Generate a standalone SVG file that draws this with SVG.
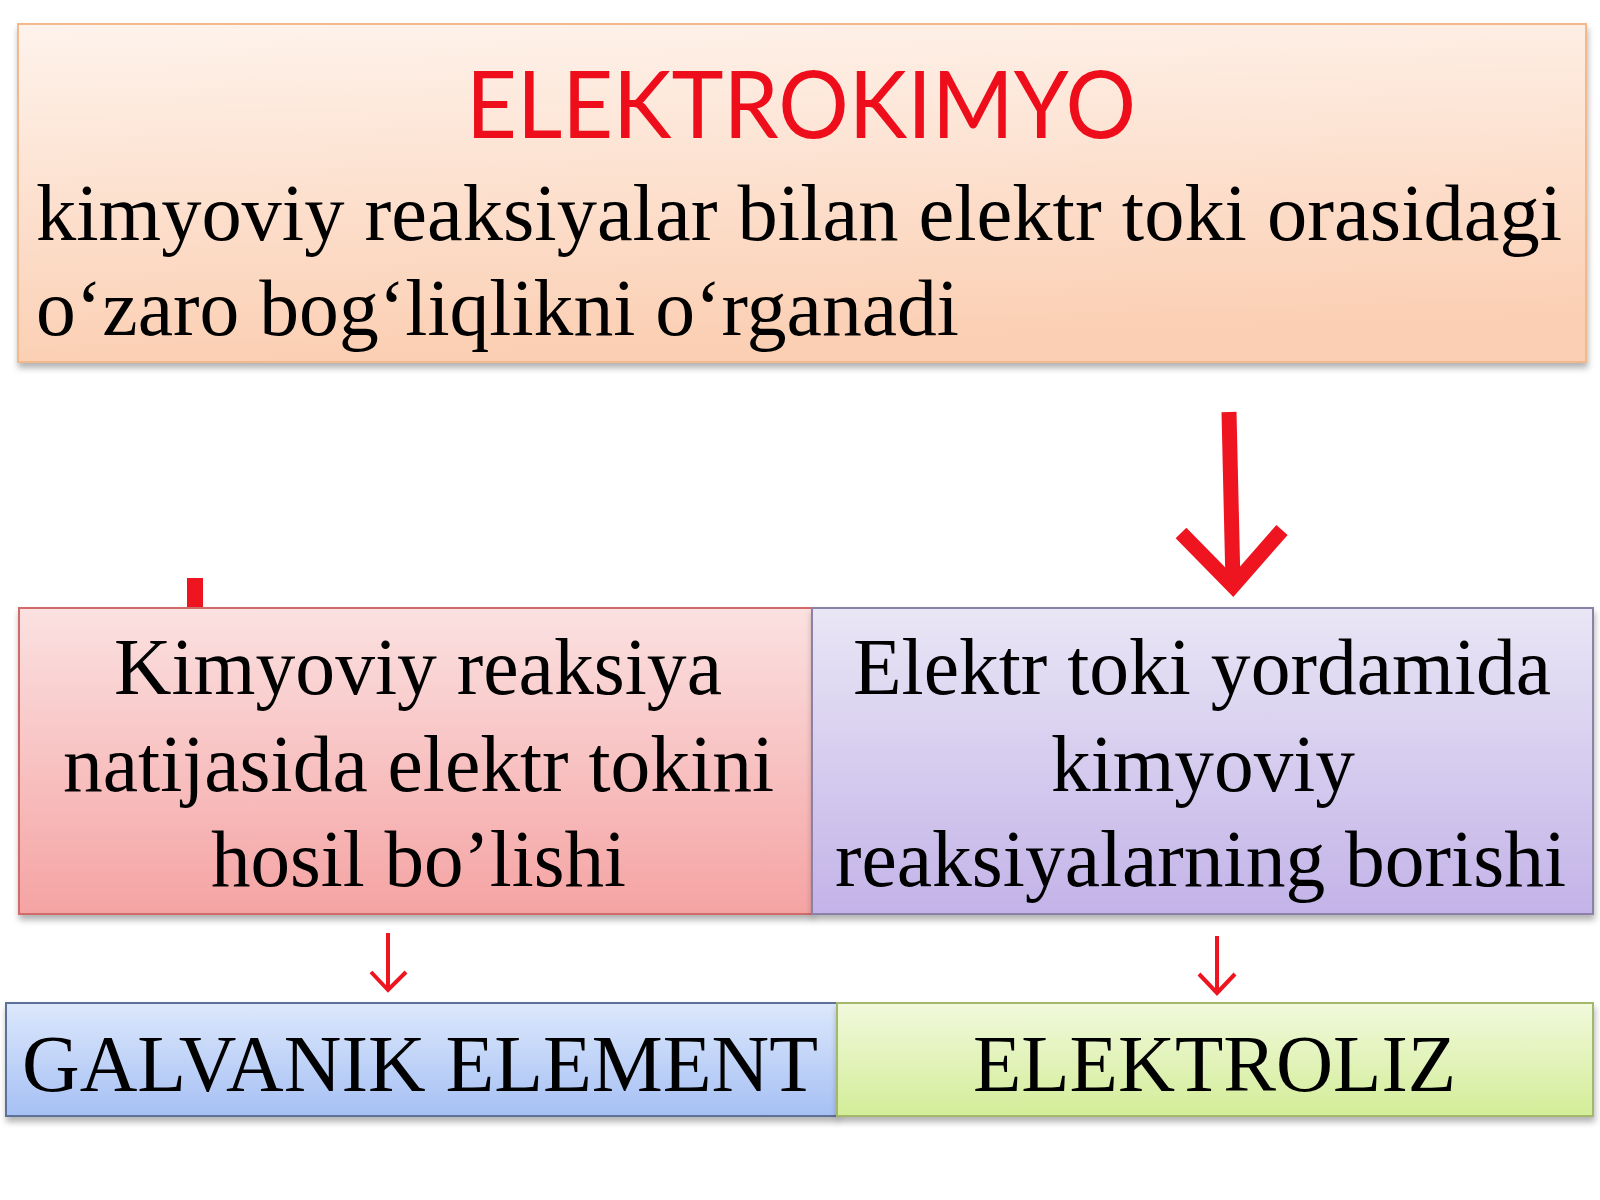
<svg xmlns="http://www.w3.org/2000/svg" width="1600" height="1200" viewBox="0 0 1600 1200">
<defs>
<linearGradient id="gTop" x1="0" y1="0" x2="0.15" y2="1">
<stop offset="0" stop-color="#fef3ec"/><stop offset="1" stop-color="#fbcfb3"/>
</linearGradient>
<linearGradient id="gPink" x1="0" y1="0" x2="0" y2="1">
<stop offset="0" stop-color="#fbe1e1"/><stop offset="1" stop-color="#f5a3a3"/>
</linearGradient>
<linearGradient id="gLav" x1="0" y1="0" x2="0" y2="1">
<stop offset="0" stop-color="#e9e6f5"/><stop offset="1" stop-color="#c3b3e8"/>
</linearGradient>
<linearGradient id="gBlue" x1="0" y1="0" x2="0" y2="1">
<stop offset="0" stop-color="#dce8fc"/><stop offset="1" stop-color="#a6c0f4"/>
</linearGradient>
<linearGradient id="gGreen" x1="0" y1="0" x2="0" y2="1">
<stop offset="0" stop-color="#f1f9dc"/><stop offset="1" stop-color="#d3ed98"/>
</linearGradient>
<filter id="sh" x="-5%" y="-10%" width="110%" height="130%">
<feDropShadow dx="1" dy="5" stdDeviation="3" flood-color="#000" flood-opacity="0.3"/>
</filter>
<style>
.box{stroke-width:2;filter:url(#sh)}
.serif{font-family:"Liberation Serif","Times New Roman",serif;fill:#000}
.title{font-family:Lato,"Liberation Sans",sans-serif;fill:#ee0d1a}
.arrow{fill:none;stroke:#ee1520;stroke-linecap:butt;stroke-linejoin:miter}
</style>
</defs>
<rect width="1600" height="1200" fill="#fff"/>

<g id="connectors">
<rect x="187" y="578" width="16" height="32" fill="#ee1520"/>
<g class="arrow" stroke-width="15">
<line x1="1229" y1="412" x2="1233" y2="584"/>
<polyline points="1181,533 1233,586 1282,530"/>
</g>
<g class="arrow" stroke-width="4">
<line x1="388" y1="933" x2="388" y2="989"/>
<polyline points="371,972 388,990 406,972"/>
<line x1="1217" y1="936" x2="1217" y2="991"/>
<polyline points="1199,974 1217,993 1235,974"/>
</g>
</g>

<g id="node-elektrokimyo">
<rect class="box" x="18" y="24" width="1568" height="338" fill="url(#gTop)" stroke="#f3b98c"/>
<text class="title" x="466" y="138" font-size="94" textLength="670" lengthAdjust="spacingAndGlyphs">ELEKTROKIMYO</text>
<text class="serif" x="36" y="240" font-size="80" textLength="1526" lengthAdjust="spacingAndGlyphs">kimyoviy reaksiyalar bilan elektr toki orasidagi</text>
<text class="serif" x="36" y="335" font-size="80" textLength="923" lengthAdjust="spacingAndGlyphs">o‘zaro bog‘liqlikni o‘rganadi</text>
</g>

<g id="node-kimyoviy">
<rect class="box" x="19" y="608" width="793" height="306" fill="url(#gPink)" stroke="#d16a6a"/>
<text class="serif" font-size="80">
<tspan x="114" y="694" textLength="608" lengthAdjust="spacingAndGlyphs">Kimyoviy reaksiya</tspan>
<tspan x="63" y="791" textLength="711" lengthAdjust="spacingAndGlyphs">natijasida elektr tokini</tspan>
<tspan x="211" y="886" textLength="415" lengthAdjust="spacingAndGlyphs">hosil bo’lishi</tspan>
</text>
</g>

<g id="node-elektr">
<rect class="box" x="812" y="608" width="781" height="306" fill="url(#gLav)" stroke="#8b80a6"/>
<text class="serif" font-size="80">
<tspan x="853" y="694" textLength="698" lengthAdjust="spacingAndGlyphs">Elektr toki yordamida</tspan>
<tspan x="1051" y="791" textLength="304" lengthAdjust="spacingAndGlyphs">kimyoviy</tspan>
<tspan x="835" y="886" textLength="731" lengthAdjust="spacingAndGlyphs">reaksiyalarning borishi</tspan>
</text>
</g>

<g id="node-galvanik">
<rect class="box" x="6" y="1003" width="831" height="113" fill="url(#gBlue)" stroke="#5d7098"/>
<text class="serif" x="22" y="1091" font-size="80" textLength="796" lengthAdjust="spacingAndGlyphs">GALVANIK ELEMENT</text>
</g>

<g id="node-elektroliz">
<rect class="box" x="837" y="1003" width="756" height="113" fill="url(#gGreen)" stroke="#a3b86c"/>
<text class="serif" x="973" y="1091" font-size="80" textLength="483" lengthAdjust="spacingAndGlyphs">ELEKTROLIZ</text>
</g>
</svg>
